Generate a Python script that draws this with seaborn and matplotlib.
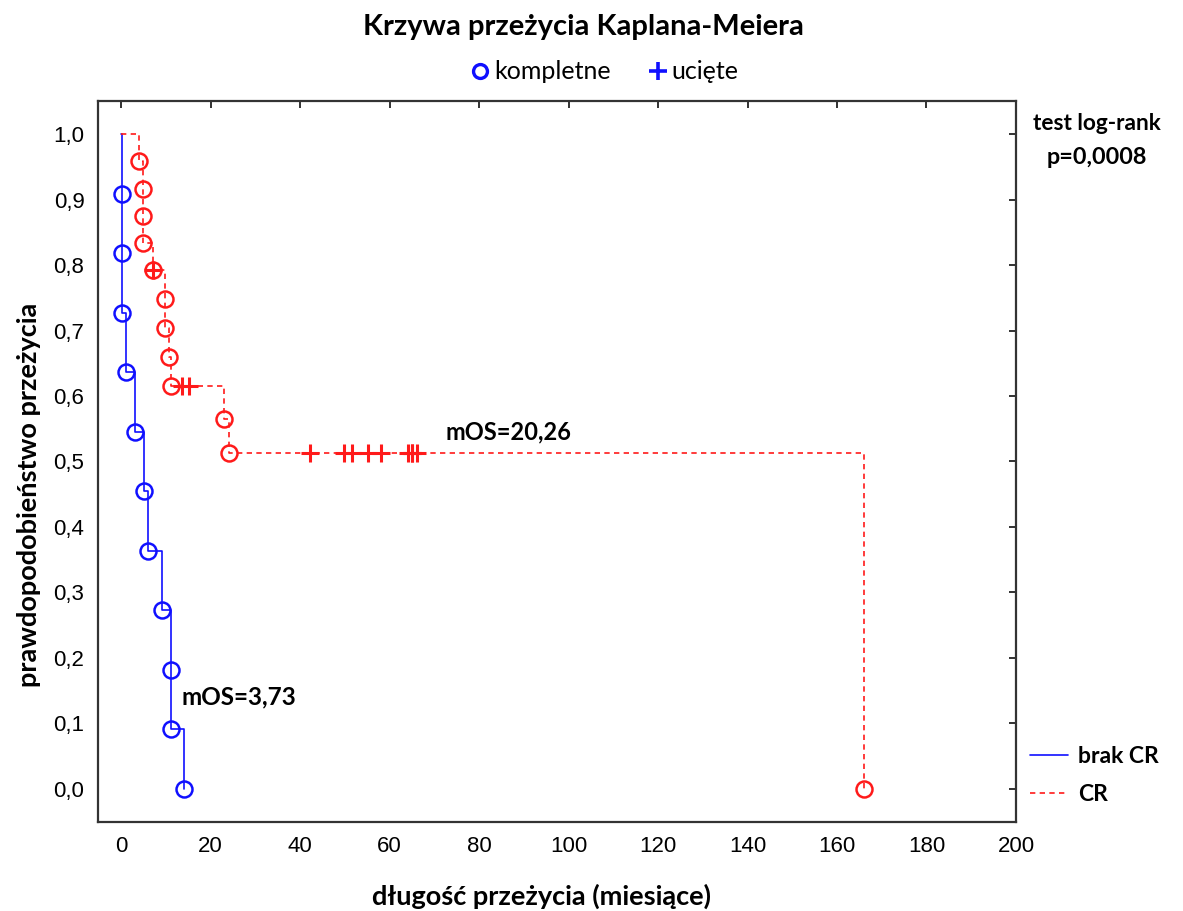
import numpy as np
import pandas as pd
import matplotlib
matplotlib.use("Agg")
import matplotlib.pyplot as plt
from matplotlib.lines import Line2D
from matplotlib.ticker import FuncFormatter, MultipleLocator
import seaborn as sns

# Observation times (months) and event flags (1 = death, 0 = censored)
brak_cr_times = [0.15, 0.15, 0.15, 1.05, 3.0, 5.1, 5.9, 9.1, 11.2, 11.2, 14.1]
brak_cr_events = [1, 1, 1, 1, 1, 1, 1, 1, 1, 1, 1]

cr_times = [3.9, 5.0, 5.0, 5.0, 7.15, 7.15, 9.8, 9.8, 10.7, 11.2, 13.6, 15.2,
            23.1, 24.0, 42.2, 49.9, 51.7, 55.1, 58.1, 64.1, 65.1, 65.1, 66.1, 166.1]
cr_events = [1, 1, 1, 1, 1, 0, 1, 1, 1, 1, 0, 0,
             1, 1, 0, 0, 0, 0, 0, 0, 0, 0, 0, 1]

groups = ["brak CR", "CR"]
group_colors = {"brak CR": "#1010ff", "CR": "#ff1a1a"}
median_labels = {"brak CR": "mOS=3,73", "CR": "mOS=20,26"}
x_ticks = list(range(0, 201, 20))


def km_table(times, events, name):
    """Product-limit estimate, evaluated observation by observation."""
    order = sorted(range(len(times)), key=lambda i: (times[i], -events[i]))
    n = len(times)
    surv = 1.0
    rows = [(0.0, 1.0, -1)]
    for k, i in enumerate(order):
        at_risk = n - k
        if events[i]:
            surv *= (at_risk - 1) / at_risk
        rows.append((times[i], surv, events[i]))
    df = pd.DataFrame(rows, columns=["t", "S", "event"])
    df["group"] = name
    return df


tables = {
    "brak CR": km_table(brak_cr_times, brak_cr_events, "brak CR"),
    "CR": km_table(cr_times, cr_events, "CR"),
}

sns.set_style("white")
plt.rcParams["font.family"] = ["Liberation Sans", "DejaVu Sans"]
plt.rcParams["text.color"] = "black"
plt.rcParams["axes.labelcolor"] = "black"
plt.rcParams["xtick.color"] = "black"
plt.rcParams["ytick.color"] = "black"
label_font = ["Lato", "DejaVu Sans"]

fig = plt.figure(figsize=(11.83, 9.11), dpi=100)
ax = fig.add_axes([0.0831, 0.0974, 0.7757, 0.7921])

line_styles = {"brak CR": "-", "CR": (0, (3.2, 2.6))}
for g in groups:
    df = tables[g]
    sns.lineplot(data=df, x="t", y="S", ax=ax, color=group_colors[g],
                 estimator=None, sort=False, drawstyle="steps-post",
                 linestyle=line_styles[g], linewidth=1.2, legend=False)
    ev = df[df["event"] == 1]
    sns.lineplot(data=ev, x="t", y="S", ax=ax, color=group_colors[g],
                 estimator=None, sort=False, linestyle="none", marker="o",
                 markersize=11.5, markerfacecolor="none",
                 markeredgecolor=group_colors[g], markeredgewidth=1.8,
                 legend=False)
    cens = df[df["event"] == 0]
    if len(cens):
        sns.lineplot(data=cens, x="t", y="S", ax=ax, color=group_colors[g],
                     estimator=None, sort=False, linestyle="none", marker="+",
                     markersize=13, markeredgewidth=2.2,
                     markeredgecolor=group_colors[g], legend=False)

ax.set_xlim(-5.1, 200)
ax.set_ylim(-0.051, 1.051)
ax.set_xticks(x_ticks)
ax.yaxis.set_major_locator(MultipleLocator(0.1))
ax.yaxis.set_major_formatter(FuncFormatter(lambda v, p: f"{v:.1f}".replace(".", ",").replace("-", "")))
ax.tick_params(axis="both", which="major", direction="in", length=5, width=1.3,
               color="#222222", labelsize=16, top=True, right=True, pad=10)
for s in ax.spines.values():
    s.set_color("#333333")
    s.set_linewidth(1.6)

ax.set_xlabel("długość przeżycia (miesiące)", fontsize=19.5, fontweight="bold",
              family=label_font, va="top")
ax.xaxis.set_label_coords(0.4835, -0.085)
ax.set_ylabel("prawdopodobieństwo przeżycia", fontsize=19.5, fontweight="bold",
              family=label_font)
ax.yaxis.set_label_coords(-0.062, 0.4536)

ax.text(72.5, 0.545, median_labels["CR"], fontsize=17, fontweight="bold",
        family=label_font, ha="left", va="center")
ax.text(13.5, 0.141, median_labels["brak CR"], fontsize=17.5, fontweight="bold",
        family=label_font, ha="left", va="center")

fig.text(0.493, 0.970, "Krzywa przeżycia Kaplana-Meiera", fontsize=21,
         fontweight="bold", family=label_font, ha="center", va="center")
fig.text(0.927, 0.864, "test log-rank", fontsize=16.3, fontweight="bold",
         family=label_font, ha="center", va="center")
fig.text(0.927, 0.827, "p=0,0008", fontsize=16.8, fontweight="bold",
         family=label_font, ha="center", va="center")

marker_handles = [
    Line2D([], [], linestyle="none", marker="o", markersize=10, markerfacecolor="none",
           markeredgecolor="#1010ff", markeredgewidth=2.4),
    Line2D([], [], linestyle="none", marker="+", markersize=13, markeredgewidth=2.6,
           markeredgecolor="#1010ff"),
]
fig.legend(marker_handles, ["kompletne", "ucięte"], loc="center",
           bbox_to_anchor=(0.512, 0.921), ncol=2, frameon=False,
           prop={"family": label_font, "size": 18}, handlelength=0.6,
           handletextpad=0.25, columnspacing=1.6)

group_handles = [
    Line2D([], [], color=group_colors["brak CR"], linewidth=1.2, linestyle="-"),
    Line2D([], [], color=group_colors["CR"], linewidth=1.2, linestyle=(0, (3.2, 2.6))),
]
fig.legend(group_handles, groups, loc="center left", bbox_to_anchor=(0.853, 0.149),
           frameon=False, prop={"family": label_font, "size": 16.5, "weight": "bold"},
           handlelength=1.65, handletextpad=0.45, labelspacing=0.75)

fig.savefig("out.png", dpi=100)
